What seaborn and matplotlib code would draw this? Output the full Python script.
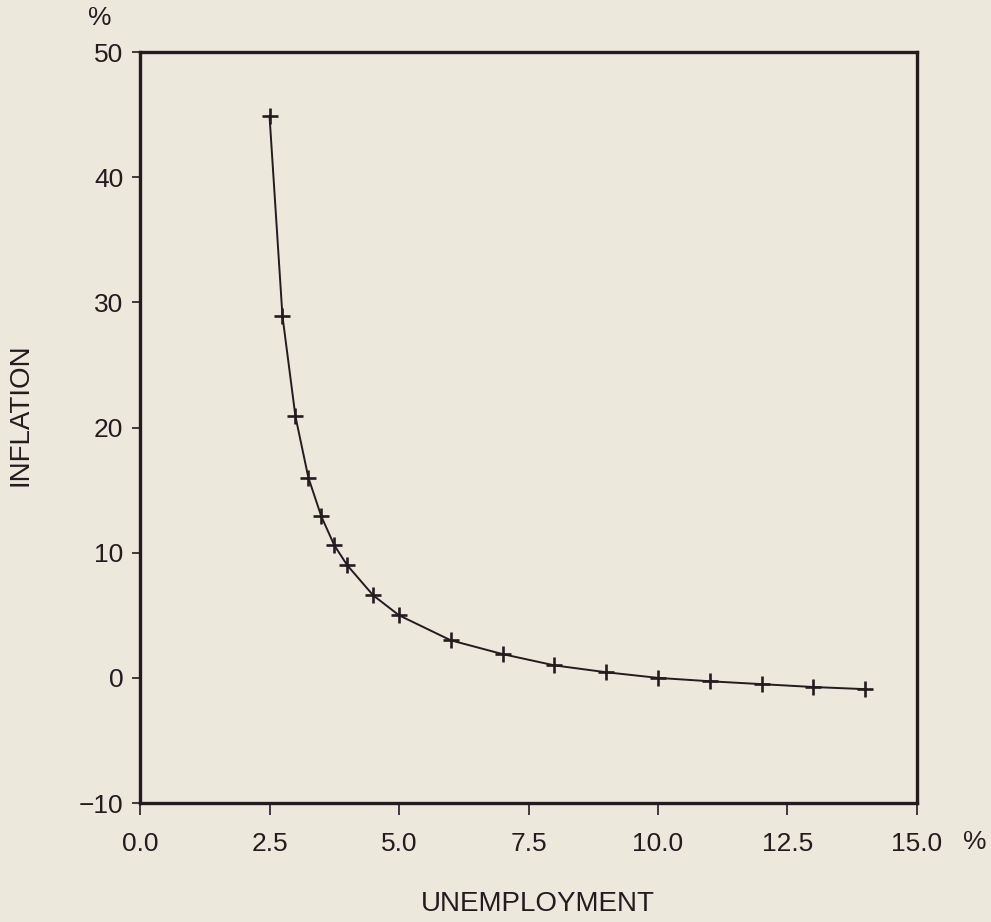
import numpy as np
import pandas as pd
import seaborn as sns
import matplotlib
import matplotlib.pyplot as plt

matplotlib.use("Agg")

# Données (courbe de Phillips)
unemployment = [2.5, 2.75, 3.0, 3.25, 3.5, 3.75, 4.0, 4.5, 5.0, 6.0,
                7.0, 8.0, 9.0, 10.0, 11.0, 12.0, 13.0, 14.0]
inflation = [44.9, 28.9, 20.9, 16.0, 12.9, 10.6, 9.0, 6.6, 5.0, 3.0,
             1.9, 1.0, 0.45, 0.0, -0.27, -0.5, -0.73, -0.9]

x_ticks = [0.0, 2.5, 5.0, 7.5, 10.0, 12.5, 15.0]
y_ticks = [-10, 0, 10, 20, 30, 40, 50]

df = pd.DataFrame({"unemployment": unemployment, "inflation": inflation})

bg = "#ece8dc"
ink = "#231b20"

sns.set_style("white")
plt.rcParams["font.family"] = ["Liberation Sans", "DejaVu Sans"]

fig = plt.figure(figsize=(9.91, 9.22), dpi=100, facecolor=bg)
ax = fig.add_axes([0.1413, 0.1290, 0.7840, 0.8146])
ax.set_facecolor(bg)

sns.lineplot(data=df, x="unemployment", y="inflation", ax=ax,
             sort=False, estimator=None, color=ink, linewidth=1.4,
             marker="+", markersize=11, markeredgewidth=1.9,
             markeredgecolor=ink)

ax.set_xlim(0, 15)
ax.set_ylim(-10, 50)
ax.set_xticks(x_ticks)
ax.set_xticklabels([f"{v:.1f}" for v in x_ticks])
ax.set_yticks(y_ticks)
ax.set_yticklabels([f"{v}" if v >= 0 else f"\u2212{abs(v)}" for v in y_ticks])

for s in ax.spines.values():
    s.set_visible(True)
    s.set_linewidth(2.4)
    s.set_color(ink)

ax.tick_params(axis="both", direction="out", colors=ink, labelsize=19,
               width=1.2, labelcolor=ink)
ax.tick_params(axis="y", length=6, pad=6, left=True)
ax.tick_params(axis="x", length=8.5, pad=12.5, bottom=True)

ax.set_xlabel("")
ax.set_ylabel("")

# Titres d'axes et unités
fig.text(538 / 991, 1 - 904 / 922, "UNEMPLOYMENT", ha="center", va="center",
         fontsize=20, color=ink)
fig.text(21 / 991, 1 - 415 / 922, "INFLATION", ha="center", va="center",
         rotation=90, fontsize=20, color=ink)
fig.text(100 / 991, 1 - 18 / 922, "%", ha="center", va="center",
         fontsize=19, color=ink)
fig.text(975 / 991, 1 - 842 / 922, "%", ha="center", va="center",
         fontsize=19, color=ink)

plt.savefig("out.png", dpi=100, facecolor=bg)
